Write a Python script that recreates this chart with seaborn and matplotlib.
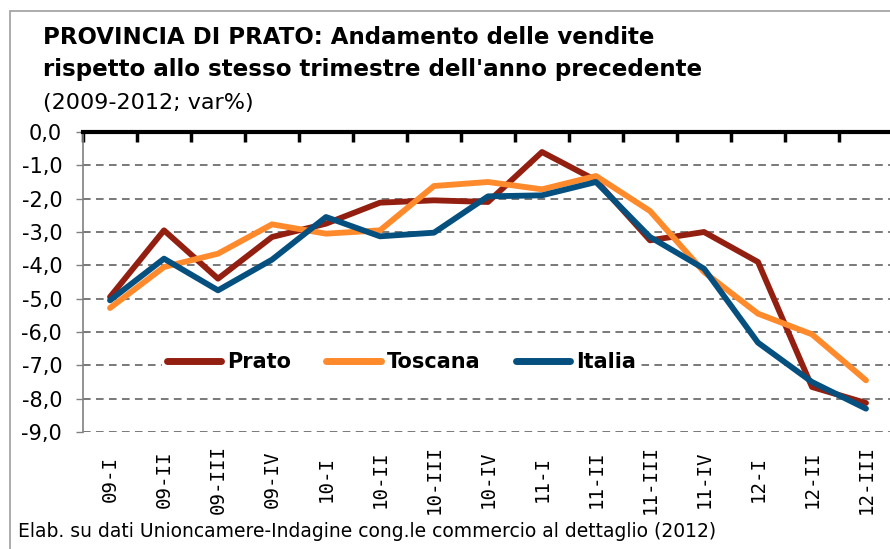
import numpy as np
import pandas as pd
import seaborn as sns
import matplotlib.pyplot as plt
from matplotlib.patches import Rectangle

# Dati (var% rispetto allo stesso trimestre dell'anno precedente)
trimestri = ['09-I', '09-II', '09-III', '09-IV', '10-I', '10-II', '10-III', '10-IV',
             '11-I', '11-II', '11-III', '11-IV', '12-I', '12-II', '12-III']
prato = [-4.95, -2.95, -4.4, -3.15, -2.75, -2.12, -2.05, -2.1,
         -0.6, -1.45, -3.25, -3.0, -3.9, -7.65, -8.13]
toscana = [-5.28, -4.05, -3.65, -2.77, -3.05, -2.95, -1.62, -1.5,
           -1.72, -1.32, -2.37, -4.2, -5.45, -6.07, -7.45]
italia = [-5.05, -3.8, -4.75, -3.83, -2.55, -3.13, -3.02, -1.93,
          -1.9, -1.5, -3.15, -4.1, -6.32, -7.5, -8.3]
serie = ['Prato', 'Toscana', 'Italia']
colori = ['#931F10', '#FF8A2B', '#05507E']
yticks = np.arange(0, -10, -1)

# Formato lungo per seaborn
df = pd.DataFrame({
    'pos': list(range(len(trimestri))) * 3,
    'valore': prato + toscana + italia,
    'serie': np.repeat(serie, len(trimestri)),
})

sns.set_style('white', {'text.color': 'black', 'xtick.color': 'black',
                        'ytick.color': 'black', 'axes.labelcolor': 'black'})
plt.rcParams['font.family'] = ['DejaVu Sans']

fig = plt.figure(figsize=(8.9, 5.49), dpi=100)
ax = fig.add_axes([83 / 890, 1 - 432 / 549, 810 / 890, 300 / 549])

sns.lineplot(data=df, x='pos', y='valore', hue='serie', hue_order=serie,
             palette=colori, linewidth=4.2, ax=ax,
             solid_capstyle='round', solid_joinstyle='round')

ax.set_xlim(-0.5, len(trimestri) - 0.5)
ax.set_ylim(-9, 0)
ax.set_xlabel('')
ax.set_ylabel('')

# Asse Y
ax.set_yticks(yticks)
ax.set_yticklabels([f'{v:.1f}'.replace('.', ',') for v in yticks], fontsize=15)
ax.tick_params(axis='y', left=True, direction='out', length=5, width=1,
               color='#808080', labelcolor='black', pad=10)
ax.yaxis.grid(True, linestyle=(0, (5, 3.5)), color='#555555', linewidth=1.1)
ax.set_axisbelow(True)

# Asse X: etichette in basso, tacche in alto sulla linea dello zero
ax.set_xticks(range(len(trimestri)))
ax.set_xticklabels(trimestri, rotation=90, va='center',
                   fontsize=13.8, family='DejaVu Sans Mono')
ax.tick_params(axis='x', which='major', length=0, pad=34, labelcolor='black')
ax.set_xticks(np.arange(-0.5, len(trimestri), 1), minor=True)
ax.tick_params(axis='x', which='minor', bottom=False, top=True,
               direction='in', length=7, width=2.5, color='black')

for s in ['bottom', 'right']:
    ax.spines[s].set_visible(False)
ax.spines['top'].set_color('black')
ax.spines['top'].set_linewidth(3)
ax.spines['left'].set_color('#808080')
ax.spines['left'].set_linewidth(1.2)

# Legenda
sns.move_legend(ax, loc='center', bbox_to_anchor=(0.393, 0.233), ncol=3,
                title=None, frameon=True, framealpha=1, facecolor='white',
                edgecolor='white', prop={'weight': 'bold', 'size': 15},
                handlelength=2.6, handletextpad=0.3, columnspacing=1.7,
                borderpad=0.2, labelcolor='black')
for h in ax.get_legend().legend_handles:
    h.set_linewidth(5)
    h.set_solid_capstyle('round')

# Titoli e fonte
fig.text(43 / 890, 1 - 44 / 549, 'PROVINCIA DI PRATO: Andamento delle vendite',
         fontsize=16.5, weight='bold', va='baseline', color='black')
fig.text(43 / 890, 1 - 76 / 549, "rispetto allo stesso trimestre dell'anno precedente",
         fontsize=16.6, weight='bold', va='baseline', color='black')
fig.text(43 / 890, 1 - 109 / 549, '(2009-2012; var%)', fontsize=16,
         va='baseline', color='black')
fig.text(18 / 890, 1 - 537 / 549,
         'Elab. su dati Unioncamere-Indagine cong.le commercio al dettaglio (2012)',
         fontsize=13.5, va='baseline', color='black')

# Cornice grigia del grafico
fig.patches.append(Rectangle((10 / 890, -0.1), 1.2, 1.1 - 11 / 549, fill=False,
                             edgecolor='#A6A6A6', linewidth=1.3,
                             transform=fig.transFigure, figure=fig))

fig.savefig('out.png', dpi=100)
